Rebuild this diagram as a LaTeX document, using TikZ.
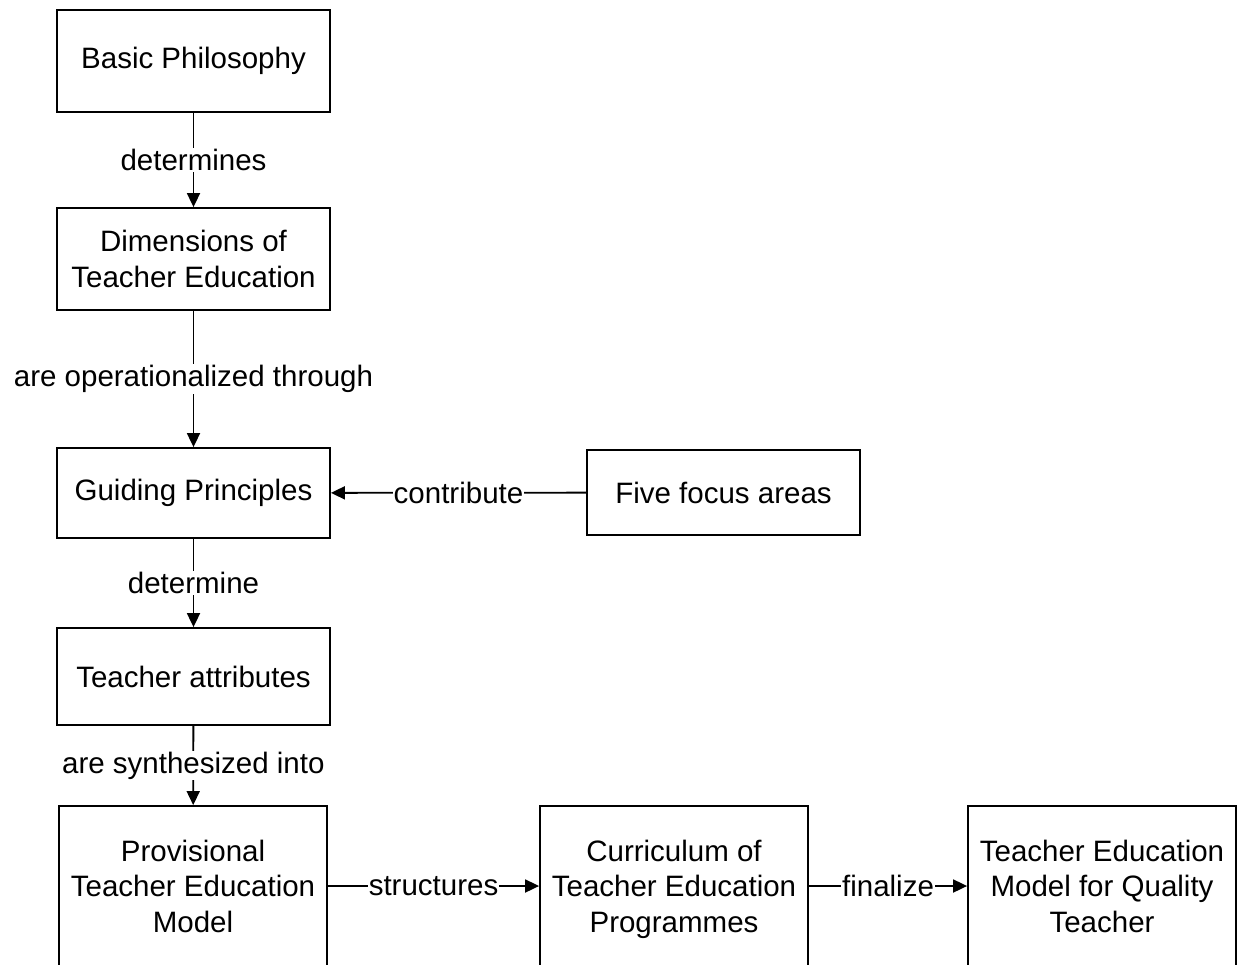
\documentclass[tikz,border=0pt]{standalone}
\usepackage{fontspec}
\setmainfont{Liberation Sans}
\usetikzlibrary{arrows.meta}
\tikzset{
  box/.style={draw, line width=1.8pt, minimum width=273pt, minimum height=102pt, align=center, inner sep=0pt},
  bigbox/.style={box, minimum width=268pt, minimum height=166pt},
  rel/.style={fill=white, inner sep=1pt},
  link/.style={line width=1.8pt, -{Triangle[length=14pt,width=13pt]}},
}
\begin{document}
\begin{tikzpicture}[x=1pt, y=-1pt, font=\fontsize{29.5}{35.5}\selectfont]
    \clip (0,0) rectangle (1238,965);
    % colonna di sinistra
    \node[box] (phil) at (193.5,61) {Basic Philosophy};
    \node[box] (dims) at (193.5,259) {Dimensions of\\Teacher Education};
    \node[box, minimum height=90pt] (guide) at (193.5,493) {Guiding Principles};
    \node[box, minimum height=97pt] (attr) at (193.5,676.5) {Teacher attributes};
    \node[box, minimum height=85pt] (focus) at (723.5,492.5) {Five focus areas};
    % riga in basso
    \node[bigbox] (prov) at (193,889) {Provisional\\Teacher Education\\Model\vphantom{g}};
    \node[bigbox] (curr) at (674,889) {Curriculum of\\Teacher Education\\Programmes};
    \node[bigbox] (final) at (1102,889) {Teacher Education\\Model for Quality\\Teacher\vphantom{g}};
    \draw[link] (phil) -- node[rel] {determines} (dims);
    \draw[link] (dims) -- node[rel] {are operationalized through} (guide);
    \draw[link] (focus) -- node[rel] {contribute} (guide);
    \draw[link] (guide) -- node[rel] {determine} (attr);
    \draw[link] (attr) -- node[rel] {are synthesized into} (prov);
    \draw[link] ([yshift=3pt]prov.east) -- node[rel] {structures} ([yshift=3pt]curr.west);
    \draw[link] ([yshift=3pt]curr.east) -- node[rel] {finalize} ([yshift=3pt]final.west);
\end{tikzpicture}
\end{document}
